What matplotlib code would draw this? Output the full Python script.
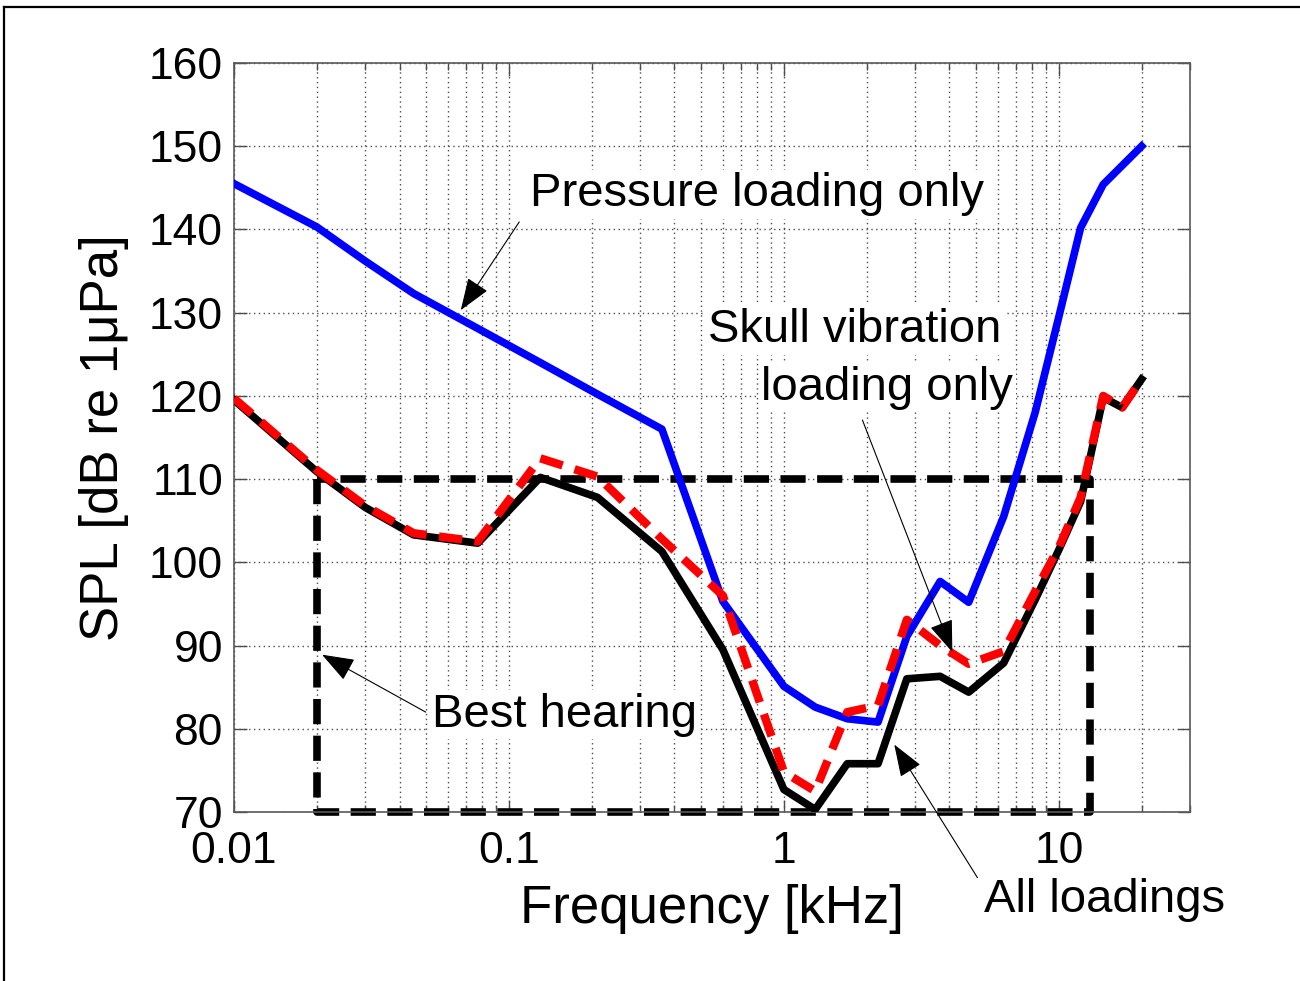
import matplotlib
matplotlib.use("Agg")
import matplotlib.pyplot as plt
from matplotlib.lines import Line2D
from matplotlib.ticker import LogLocator, FixedLocator, FixedFormatter, NullFormatter

plt.rcParams["font.family"] = ["Liberation Sans", "DejaVu Sans"]

# ── Data ─────────────────────────────────────────────────────────────────────
freq_pressure = [0.01, 0.02, 0.03, 0.045, 0.077, 0.13, 0.21, 0.36, 0.6, 1.0, 1.3,
                 1.7, 2.2, 2.8, 3.7, 4.7, 6.3, 8.2, 10, 12, 14.5, 20]
spl_pressure = [145.5, 140.3, 136.2, 132.3, 128.1, 124.0, 120.2, 116.0, 95.3, 85.1, 82.6,
                81.2, 80.8, 91.1, 97.7, 95.2, 105.5, 118.0, 129.5, 140.2, 145.4, 150.0]

freq_loaded = [0.01, 0.02, 0.03, 0.045, 0.077, 0.13, 0.21, 0.36, 0.6, 1.0, 1.3, 1.7,
               2.2, 2.8, 3.7, 4.7, 6.3, 8.2, 10, 12, 14.5, 17, 20]
spl_all = [119.5, 110.9, 106.6, 103.3, 102.3, 110.2, 107.8, 101.3, 89.5, 72.7, 70.3, 75.8,
           75.8, 86.0, 86.3, 84.4, 87.9, 95.5, 101.5, 107.3, 119.8, 118.6, 122.0]
spl_skull = [119.7, 111.1, 106.8, 103.5, 102.5, 112.5, 110.3, 102.8, 96.0, 74.8, 72.5, 82.0,
             82.8, 93.1, 90.0, 87.8, 89.3, 96.5, 101.8, 107.8, 120.0, 118.6, 122.0]

# best hearing box (corner frequencies / levels)
box_freq = [0.02, 0.02, 13, 13, 0.02]
box_spl = [110, 70, 70, 110, 110]

x_ticks = [0.01, 0.1, 1, 10]
x_ticklabels = ["0.01", "0.1", "1", "10"]
y_ticks = list(range(70, 161, 10))

# ── Figure ───────────────────────────────────────────────────────────────────
fig = plt.figure(figsize=(13, 9.81), dpi=100)
ax = fig.add_axes([0.18, 0.1723, 0.7354, 0.7635])

ax.plot(box_freq, box_spl, color="k", lw=5.5, dashes=(3.3, 1.5), dash_capstyle="butt",
        clip_on=False, zorder=2)
ax.plot(freq_loaded, spl_all, color="k", lw=5.5, zorder=3)
ax.plot(freq_pressure, spl_pressure, color="#0000ff", lw=5.5, zorder=4)
ax.plot(freq_loaded, spl_skull, color="#ff0000", lw=6, dashes=(2.8, 1.5),
        dash_capstyle="butt", zorder=5)

ax.set_xscale("log")
ax.set_xlim(0.01, 30)
ax.set_ylim(70, 160)

ax.xaxis.set_major_locator(FixedLocator(x_ticks))
ax.xaxis.set_major_formatter(FixedFormatter(x_ticklabels))
ax.xaxis.set_minor_locator(LogLocator(base=10, subs=range(2, 10)))
ax.xaxis.set_minor_formatter(NullFormatter())
ax.set_yticks(y_ticks)

ax.grid(True, which="both", axis="x", linestyle=(0, (1, 2.5)), lw=1.0, color="0.3")
ax.grid(True, which="major", axis="y", linestyle=(0, (1, 2.5)), lw=1.0, color="0.3")
ax.set_axisbelow(True)

ax.tick_params(which="both", direction="in", top=True, right=True, labelsize=32,
               color="0.3")
ax.tick_params(which="major", length=9, width=1)
ax.tick_params(which="minor", length=5, width=1)
ax.tick_params(axis="y", pad=8)
ax.tick_params(axis="x", pad=14)
for s in ax.spines.values():
    s.set_color("0.35")
    s.set_linewidth(1.2)

ax.set_xlabel("Frequency [kHz]", fontsize=38, labelpad=8)
ax.set_ylabel("SPL [dB re 1\u03bcPa]", fontsize=38, labelpad=14)

# ── Annotations ──────────────────────────────────────────────────────────────
box = dict(facecolor="white", edgecolor="none", pad=2)
arrow = dict(arrowstyle="-|>,head_length=0.6,head_width=0.22", color="k", lw=0.8,
             mutation_scale=34, shrinkA=0, shrinkB=0)

ax.text(0.797, 144.2, "Pressure loading only", fontsize=34, ha="center", va="center",
        bbox=box, zorder=6)
ax.annotate("", xy=(0.0668, 130.3), xytext=(0.109, 140.9), arrowprops=arrow, zorder=6)

ax.text(1.815, 127.9, "Skull vibration", fontsize=34, ha="center", va="center",
        bbox=box, zorder=6)
ax.text(2.38, 121.0, "loading only", fontsize=34, ha="center", va="center",
        bbox=box, zorder=6)
ax.annotate("", xy=(4.10, 89.2), xytext=(1.93, 117.1), arrowprops=arrow, zorder=6)

ax.text(0.159, 81.7, "Best hearing", fontsize=34, ha="center", va="center",
        bbox=box, zorder=6)
ax.annotate("", xy=(0.0209, 88.9), xytext=(0.0498, 82.0), arrowprops=arrow, zorder=6)

ax.text(14.7, 59.4, "All loadings", fontsize=34, ha="center", va="center",
        clip_on=False, zorder=6)
ax.annotate("", xy=(2.52, 78.1), xytext=(5.06, 62.1), arrowprops=arrow,
            annotation_clip=False, zorder=6)

# outer frame of the original figure (only left and top edges are visible)
fig.add_artist(Line2D([0.003, 0.003], [0.0, 0.993], transform=fig.transFigure,
                      color="k", lw=1.6))
fig.add_artist(Line2D([0.003, 1.0], [0.993, 0.993], transform=fig.transFigure,
                      color="k", lw=1.6))

fig.savefig("out.png", dpi=100)
plt.close(fig)
